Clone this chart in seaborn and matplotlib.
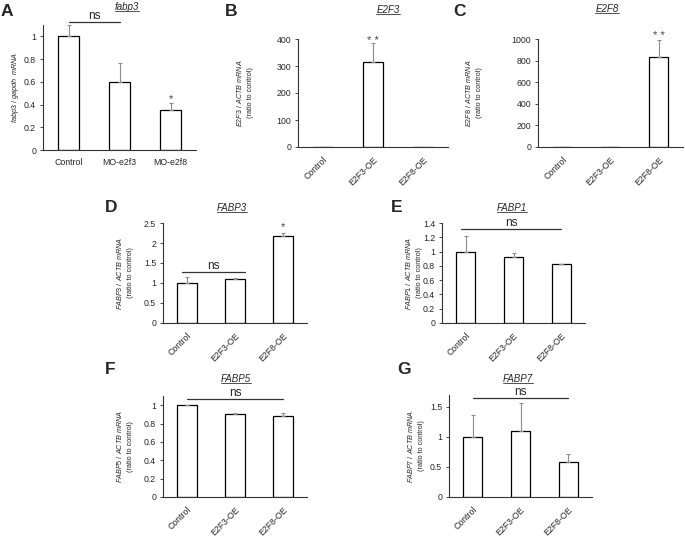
import numpy as np
import pandas as pd
import matplotlib.pyplot as plt
import seaborn as sns
from matplotlib.lines import Line2D

sns.set_style("white")
plt.rcParams['font.family'] = ['Liberation Sans', 'DejaVu Sans']
plt.rcParams['mathtext.fontset'] = 'custom'
plt.rcParams['mathtext.it'] = 'Liberation Sans:italic'
plt.rcParams['mathtext.rm'] = 'Liberation Sans'

# panel A (zebrafish morphants)
mo_groups = ['Control', 'MO-e2f3', 'MO-e2f8']
fabp3_mo = [1.0, 0.60, 0.35]
fabp3_mo_err = [0.10, 0.17, 0.06]

# panels B-G (overexpression)
oe_groups = ['Control', 'E2F3-OE', 'E2F8-OE']
e2f3_vals = [1.0, 315, 1.0]
e2f3_err = [0, 70, 0]
e2f8_vals = [1.0, 1.0, 833]
e2f8_err = [0, 0, 157]
fabp3_vals = [1.0, 1.10, 2.18]
fabp3_err = [0.15, 0.02, 0.08]
fabp1_vals = [1.0, 0.93, 0.82]
fabp1_err = [0.22, 0.05, 0.01]
fabp5_vals = [1.0, 0.90, 0.88]
fabp5_err = [0.005, 0.02, 0.03]
fabp7_vals = [1.0, 1.10, 0.58]
fabp7_err = [0.37, 0.46, 0.14]

W, H = 685, 538
fig = plt.figure(figsize=(W / 100, H / 100), dpi=100)
titles = []


def panel(edges, groups, vals, errs, gene, title_xy, ylab, ylab_x, ylim, yticks,
          ticklabels, letter, letter_xy, rotate=True, ns=None, stars=None):
    left, right, bottom, top = edges
    ax = fig.add_axes([left / W, 1 - bottom / H, (right - left) / W, (bottom - top) / H])
    df = pd.DataFrame({'group': groups, 'value': vals})
    sns.barplot(data=df, x='group', y='value', color='white', edgecolor='black',
                linewidth=0.9, width=0.4, errorbar=None, ax=ax)
    for p in ax.patches:
        p.set_facecolor('white')
    x = np.arange(len(groups))
    ax.errorbar(x, vals, yerr=[np.zeros(len(errs)), errs], fmt='none',
                ecolor='#8c8c8c', elinewidth=0.8, capsize=1.5, capthick=0.8)
    ax.set_xlim(-0.5, 2.5)
    ax.set_ylim(*ylim)
    ax.set_yticks(yticks)
    ax.set_yticklabels(ticklabels, fontsize=6.3)
    ax.set_xlabel('')
    ax.set_ylabel(ylab, fontsize=5.2, linespacing=1.6)
    ax.yaxis.set_label_coords((ylab_x - left) / (right - left), 0.5)
    ax.set_xticks(x)
    if rotate:
        ax.set_xticklabels(groups, fontsize=6.3, rotation=45, ha='right',
                           rotation_mode='anchor')
    else:
        ax.set_xticklabels(groups, fontsize=6.3)
    ax.tick_params(axis='x', length=0, pad=6)
    ax.tick_params(axis='y', length=2, width=0.6, pad=3, left=True)
    sns.despine(ax=ax)
    for s in ['left', 'bottom']:
        ax.spines[s].set_linewidth(0.8)
        ax.spines[s].set_color('#333333')
    t = fig.text(title_xy[0] / W, 1 - title_xy[1] / H, gene, fontsize=7,
                 style='italic', ha='center', va='center')
    titles.append(t)
    if ns is not None:
        x0, x1, yv = ns
        ax.plot([x0, x1], [yv, yv], color='#333333', lw=0.9, clip_on=False)
        ax.text((x0 + x1) / 2, yv, 'ns', ha='center', va='bottom', fontsize=8.5)
    if stars is not None:
        xs, ys, txt = stars
        ax.text(xs, ys, txt, ha='center', va='bottom', fontsize=8,
                color='#444444', clip_on=False)
    fig.text(letter_xy[0] / W, 1 - letter_xy[1] / H, letter, fontsize=12.5,
             fontweight='bold', ha='left', va='center')
    return ax


panel((43, 196, 150, 25), mo_groups, fabp3_mo, fabp3_mo_err, 'fabp3', (127, 7),
      r'$\it{fabp3\ /\ gapdh\ \ mRNA}$', 21, (0, 1.1), [0, 0.2, 0.4, 0.6, 0.8, 1],
      ['0', '0.2', '0.4', '0.6', '0.8', '1'], 'A', (1, 11), rotate=False,
      ns=(0, 1.0, 1.13), stars=(2, 0.40, '*'))

panel((298, 448, 147, 39), oe_groups, e2f3_vals, e2f3_err, 'E2F3', (388, 10),
      r'$\it{E2F3\ /\ ACTB\ mRNA}$' + '\n(ratio to control)', 254, (0, 400),
      [0, 100, 200, 300, 400], ['0', '100', '200', '300', '400'], 'B', (225, 11),
      stars=(1, 375, '* *'))

panel((538, 683, 147, 39), oe_groups, e2f8_vals, e2f8_err, 'E2F8', (607, 9),
      r'$\it{E2F8\ /\ ACTB\ mRNA}$' + '\n(ratio to control)', 483, (0, 1000),
      [0, 200, 400, 600, 800, 1000], ['0', '200', '400', '600', '800', '1000'],
      'C', (453, 11), stars=(2, 985, '* *'))

panel((163, 307, 323, 223), oe_groups, fabp3_vals, fabp3_err, 'FABP3', (232, 208),
      r'$\it{FABP3\ /\ ACTB\ mRNA}$' + '\n(ratio to control)', 134, (0, 2.5),
      [0, 0.5, 1, 1.5, 2, 2.5], ['0', '0.5', '1', '1.5', '2', '2.5'],
      'D', (105, 208), ns=(-0.1, 1.2, 1.27), stars=(2, 2.28, '*'))

panel((442, 585, 323, 223), oe_groups, fabp1_vals, fabp1_err, 'FABP1', (512, 208),
      r'$\it{FABP1\ /\ ACTB\ mRNA}$' + '\n(ratio to control)', 423, (0, 1.4),
      [0, 0.2, 0.4, 0.6, 0.8, 1, 1.2, 1.4],
      ['0', '0.2', '0.4', '0.6', '0.8', '1', '1.2', '1.4'],
      'E', (391, 208), ns=(-0.1, 2.0, 1.32))

panel((163, 307, 497, 396), oe_groups, fabp5_vals, fabp5_err, 'FABP5', (236, 379),
      r'$\it{FABP5\ /\ ACTB\ mRNA}$' + '\n(ratio to control)', 134, (0, 1.1),
      [0, 0.2, 0.4, 0.6, 0.8, 1], ['0', '0.2', '0.4', '0.6', '0.8', '1'],
      'F', (105, 370), ns=(0, 2.0, 1.065))

panel((449, 592, 497, 395), oe_groups, fabp7_vals, fabp7_err, 'FABP7', (518, 379),
      r'$\it{FABP7\ /\ ACTB\ mRNA}$' + '\n(ratio to control)', 425, (0, 1.7),
      [0, 0.5, 1, 1.5], ['0', '0.5', '1', '1.5'],
      'G', (397, 370), ns=(0, 2.0, 1.65))

# underline the gene titles
fig.canvas.draw()
renderer = fig.canvas.get_renderer()
for t in titles:
    bb = t.get_window_extent(renderer)
    y = bb.y0 + 1
    fig.add_artist(Line2D([bb.x0 / W, bb.x1 / W], [y / H, y / H],
                          color='#333333', lw=0.6))

fig.savefig('out.png', dpi=100)
